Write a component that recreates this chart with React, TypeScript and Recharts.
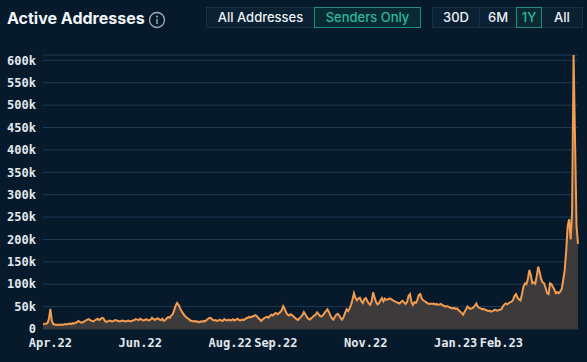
import { AreaChart, Area, XAxis, YAxis, CartesianGrid } from 'recharts';

// daily active sender addresses (thousands), Mar 27 2022 -> Mar 25 2023
const activeSendersK = [
  12, 11, 12, 13, 22, 45, 18, 11, 10, 9,
  10, 9, 10, 9, 10, 11, 10, 11, 12, 11,
  13, 12, 14, 15, 18, 16, 14, 15, 17, 19,
  21, 22, 20, 18, 17, 19, 21, 23, 20, 22,
  25, 24, 18, 16, 17, 19, 18, 17, 18, 20,
  19, 18, 17, 18, 19, 18, 17, 18, 19, 17,
  18, 19, 20, 22, 21, 20, 23, 21, 19, 20,
  22, 20, 19, 21, 25, 22, 20, 23, 24, 21,
  20, 23, 18, 20, 24, 27, 25, 30, 33, 42,
  52, 58, 54, 46, 40, 35, 30, 27, 24, 22,
  19, 18, 17, 18, 16, 17, 15, 17, 16, 18,
  17, 20, 23, 25, 24, 21, 19, 20, 18, 19,
  21, 19, 18, 22, 20, 19, 21, 19, 20, 22,
  19, 21, 23, 20, 19, 21, 20, 22, 24, 25,
  27, 26, 28, 29, 31, 29, 25, 22, 18, 21,
  24, 26, 27, 25, 29, 32, 30, 34, 36, 33,
  35, 38, 42, 51, 45, 37, 32, 30, 33, 31,
  28, 25, 22, 20, 24, 27, 31, 38, 33, 27,
  23, 21, 24, 27, 30, 32, 37, 33, 29, 28,
  31, 36, 40, 44, 38, 30, 24, 21, 27, 32,
  34, 30, 24, 21, 27, 36, 44, 40, 46, 54,
  66, 80, 70, 64, 68, 70, 62, 58, 66, 69,
  63, 57, 54, 62, 82, 70, 60, 55, 58, 64,
  69, 62, 68, 65, 66, 68, 67, 65, 63, 61,
  60, 58, 57, 61, 63, 59, 56, 60, 74, 78,
  60, 54, 60, 58, 65, 76, 78, 68, 64, 62,
  60, 57, 56, 57, 56, 57, 55, 56, 54, 55,
  56, 53, 52, 50, 51, 50, 48, 47, 46, 47,
  45, 46, 42, 39, 36, 32, 38, 44, 50, 47,
  45, 46, 48, 52, 57, 50, 47, 46, 44, 45,
  43, 42, 40, 41, 39, 40, 42, 43, 41, 42,
  43, 44, 50, 55, 57, 55, 58, 60, 61, 66,
  74, 78, 70, 66, 64, 78, 95, 102, 100, 112,
  132, 120, 102, 104, 101, 118, 139, 126, 112, 104,
  102, 92, 80, 78, 102, 100, 94, 88, 80, 82,
  80, 84, 90, 110, 132, 175, 230, 245, 200, 260,
  612, 420, 230, 190,
];

const monthTickDays = [5, 66, 127, 158, 219, 280, 311];
const monthTickLabels = ['Apr.22', 'Jun.22', 'Aug.22', 'Sep.22', 'Nov.22', 'Jan.23', 'Feb.23'];
const valueTicks = [0, 50000, 100000, 150000, 200000, 250000, 300000, 350000, 400000, 450000, 500000, 550000, 600000];

const chartData = activeSendersK.map((v, i) => ({ day: i, value: v * 1000 }));

const BG = '#061a2b';
const tickStyle = { fill: '#e3e8ee', fontSize: 12, fontWeight: 700, fontFamily: '"DejaVu Sans Mono", monospace' };

const btn = (left: number, width: number, label: string, active = false) => (
  <div
    key={label}
    style={{
      position: 'absolute',
      left,
      top: 7,
      width,
      height: 21,
      boxSizing: 'border-box',
      border: `1px solid ${active ? '#1f8c7d' : '#1b3044'}`,
      background: active ? '#082a33' : '#0a2033',
      color: active ? '#2db89c' : '#eef2f6',
      fontSize: 13,
      fontWeight: 500,
      fontFamily: 'Inter, sans-serif',
      lineHeight: '19px',
      textAlign: 'center',
      zIndex: active ? 2 : 1,
    }}
  >
    {label}
  </div>
);

export default function App() {
  return (
    <div style={{ position: 'fixed', left: 0, top: 0, width: 587, height: 362, background: BG, overflow: 'hidden' }}>
      <div
        style={{
          position: 'absolute',
          left: 7,
          top: 7,
          color: '#f2f4f7',
          fontFamily: 'Inter, sans-serif',
          fontWeight: 700,
          fontSize: 16,
          lineHeight: '22px',
        }}
      >
        Active Addresses
      </div>
      <svg style={{ position: 'absolute', left: 148, top: 11 }} width={18} height={18}>
        <circle cx={9} cy={9} r={7.5} fill="none" stroke="#a3adb8" strokeWidth={1.3} />
        <circle cx={9} cy={5.6} r={1} fill="#a3adb8" />
        <rect x={8.3} y={7.8} width={1.4} height={5.2} fill="#a3adb8" />
      </svg>

      {btn(206, 109, 'All Addresses')}
      {btn(314, 107, 'Senders Only', true)}
      {btn(432, 48, '30D')}
      {btn(479, 38, '6M')}
      {btn(516, 26, '1Y', true)}
      {btn(541, 42, 'All')}

      <div style={{ position: 'absolute', left: 0, top: 0 }}>
        <AreaChart width={587} height={362} data={chartData} margin={{ top: 55, right: 9, bottom: 0, left: 0 }}>
          <CartesianGrid vertical={false} stroke="#1d3a55" strokeWidth={1} />
          <XAxis
            dataKey="day"
            type="number"
            domain={[0, activeSendersK.length - 1]}
            ticks={monthTickDays}
            tickFormatter={(d: number) => monthTickLabels[monthTickDays.indexOf(d)] ?? ''}
            axisLine={false}
            tickLine={false}
            tickSize={0}
            tickMargin={9}
            height={33}
            tick={tickStyle}
            interval={0}
          />
          <YAxis
            domain={[0, 612000]}
            ticks={valueTicks}
            tickFormatter={(v: number) => (v === 0 ? '0' : `${v / 1000}k`)}
            axisLine={false}
            tickLine={false}
            tickSize={0}
            tickMargin={7}
            width={43}
            tick={tickStyle}
            interval={0}
          />
          <Area
            type="linear"
            dataKey="value"
            stroke="#f39b4f"
            strokeWidth={2}
            fill="#3c3a3a"
            fillOpacity={1}
            dot={false}
            activeDot={false}
            isAnimationActive={false}
          />
        </AreaChart>
      </div>
    </div>
  );
}
